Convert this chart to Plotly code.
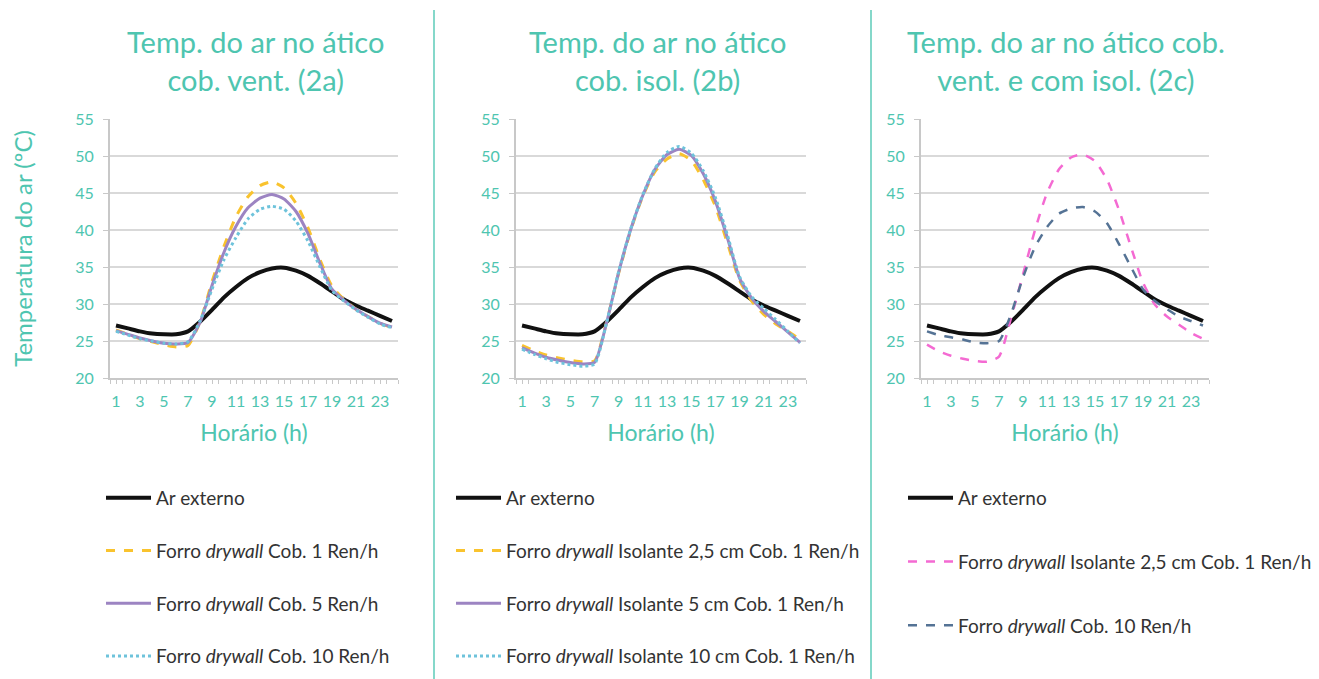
import plotly.graph_objects as go

hours = list(range(1, 25))

# Panel 2a
ar_externo = [27.1, 26.7, 26.3, 26.0, 25.9, 25.9, 26.3, 27.6, 29.2, 30.9, 32.3, 33.5,
              34.3, 34.8, 34.9, 34.5, 33.8, 32.8, 31.7, 30.6, 29.8, 29.1, 28.4, 27.7]
a_cob1 = [26.5, 25.9, 25.3, 24.9, 24.5, 24.2, 24.4, 27.6, 33.0, 37.8, 41.8, 44.5,
          46.0, 46.5, 45.7, 43.6, 40.3, 36.0, 32.4, 30.6, 29.3, 28.3, 27.4, 26.8]
a_cob5 = [26.4, 25.9, 25.4, 25.0, 24.7, 24.6, 24.8, 27.5, 32.5, 37.0, 40.5, 43.0,
          44.3, 44.8, 44.2, 42.5, 39.5, 35.5, 32.0, 30.5, 29.3, 28.3, 27.4, 26.9]
a_cob10 = [26.3, 25.8, 25.3, 25.0, 24.7, 24.6, 24.9, 27.7, 32.0, 36.0, 39.0, 41.5,
           42.8, 43.2, 42.8, 41.2, 38.5, 35.0, 31.8, 30.4, 29.2, 28.2, 27.3, 26.8]

# Panel 2b
b_iso25 = [24.4, 23.7, 23.1, 22.7, 22.4, 22.2, 22.3, 27.6, 34.2, 40.0, 44.6, 47.9,
           49.6, 50.3, 49.4, 46.8, 43.2, 38.2, 33.2, 30.4, 28.6, 27.3, 26.3, 25.2]
b_iso5 = [24.1, 23.4, 22.8, 22.4, 22.1, 21.9, 22.1, 27.5, 34.3, 40.1, 44.7, 48.2,
          50.2, 50.9, 50.1, 47.6, 43.9, 38.9, 33.5, 30.8, 29.0, 27.6, 26.2, 24.8]
b_iso10 = [23.9, 23.2, 22.6, 22.1, 21.8, 21.6, 21.9, 27.5, 34.4, 40.2, 44.8, 48.3,
           50.5, 51.3, 50.4, 48.0, 44.4, 39.3, 33.7, 31.0, 29.4, 27.9, 26.3, 24.7]

# Panel 2c
c_iso25 = [24.5, 23.6, 23.0, 22.6, 22.3, 22.2, 22.9, 28.1, 34.0, 40.0, 45.0, 48.2,
           49.8, 50.2, 49.3, 46.8, 42.7, 37.7, 32.9, 29.9, 28.3, 27.2, 26.1, 25.3]
c_cob10 = [26.3, 25.8, 25.5, 25.2, 24.8, 24.7, 25.0, 28.6, 33.6, 37.7, 40.4, 42.2,
           42.9, 43.1, 42.5, 40.9, 38.1, 35.0, 32.0, 30.4, 29.3, 28.3, 27.7, 27.1]

titles = ["Temp. do ar no ático<br>cob. vent. (2a)",
          "Temp. do ar no ático<br>cob. isol. (2b)",
          "Temp. do ar no ático cob.<br>vent. e com isol. (2c)"]
x_title = "Horário (h)"
y_title = "Temperatura do ar (ºC)"
x_ticks = list(range(1, 24, 2))
y_ticks = [20, 25, 30, 35, 40, 45, 50, 55]

TEAL = "#4EC5B0"
FONT = "Lato, 'Open Sans', sans-serif"
W, H = 1319, 679

BLACK = dict(color="#111111", width=4)
YELLOW = dict(color="#F9C32E", width=3, dash="dash")
PURPLE = dict(color="#9C84C2", width=3)
CYAN = dict(color="#6EC3DB", width=3, dash="dot")
PINK = dict(color="#F46AD2", width=2.5, dash="dash")
NAVY = dict(color="#557395", width=2.5, dash="dash")

panels = [
    ("x", "y", "legend", [
        ("Ar externo", ar_externo, BLACK),
        ("Forro <i>drywall</i> Cob. 1 Ren/h", a_cob1, YELLOW),
        ("Forro <i>drywall</i> Cob. 5 Ren/h", a_cob5, PURPLE),
        ("Forro <i>drywall</i> Cob. 10 Ren/h", a_cob10, CYAN),
    ]),
    ("x2", "y2", "legend2", [
        ("Ar externo", ar_externo, BLACK),
        ("Forro <i>drywall</i> Isolante 2,5 cm Cob. 1 Ren/h", b_iso25, YELLOW),
        ("Forro <i>drywall</i> Isolante 5 cm Cob. 1 Ren/h", b_iso5, PURPLE),
        ("Forro <i>drywall</i> Isolante 10 cm Cob. 1 Ren/h", b_iso10, CYAN),
    ]),
    ("x3", "y3", "legend3", [
        ("Ar externo", ar_externo, BLACK),
        ("Forro <i>drywall</i> Isolante 2,5 cm Cob. 1 Ren/h", c_iso25, PINK),
        ("Forro <i>drywall</i> Cob. 10 Ren/h", c_cob10, NAVY),
    ]),
]

fig = go.Figure()
for xa, ya, lg, series in panels:
    for i, (name, vals, line) in enumerate(series):
        fig.add_trace(go.Scatter(
            x=hours, y=vals, name=name, mode="lines",
            line=dict(line, shape="spline", smoothing=0.6),
            xaxis=xa, yaxis=ya, legend=lg, legendgroup=f"{lg}_{i}", legendrank=i + 1,
            hoverinfo="skip"))

# domains in pixels
xdoms = [(110, 398), (516, 806), (921, 1209)]
ytop, ybot = 119, 378
ydom = [1 - ybot / H, 1 - ytop / H]

axis_common = dict(showline=True, linecolor="#C8C8C8", linewidth=2, mirror=False,
                   tickfont=dict(color=TEAL, size=16, family=FONT), zeroline=False)

layout = dict(
    width=W, height=H, autosize=False, paper_bgcolor="white", plot_bgcolor="white",
    margin=dict(l=0, r=0, t=0, b=0, pad=0, autoexpand=False),
    font=dict(family=FONT, color="#333333"),
    showlegend=True,
)
for k, (x0, x1) in enumerate(xdoms):
    sx = "" if k == 0 else str(k + 1)
    layout[f"xaxis{sx}"] = dict(
        axis_common, domain=[x0 / W, x1 / W], range=[0.5, 24.5], tickvals=x_ticks,
        ticks="outside", ticklen=4, tickcolor="#C8C8C8", ticklabelstandoff=4,
        minor=dict(dtick=1, tick0=0.5, ticks="outside", ticklen=4, tickcolor="#C8C8C8"),
        showgrid=False, anchor=f"y{sx}",
        title=dict(text=x_title, font=dict(color=TEAL, size=23, family=FONT), standoff=16))
    layout[f"yaxis{sx}"] = dict(
        axis_common, domain=ydom, range=[20, 55], tickvals=y_ticks,
        ticks="outside", ticklen=5, tickcolor="#C8C8C8", ticklabelstandoff=6,
        showgrid=True, gridcolor="#D9D9D9", gridwidth=2, anchor=f"x{sx}")
layout["yaxis"]["title"] = dict(text=y_title, font=dict(color=TEAL, size=24, family=FONT), standoff=36)

leg_common = dict(orientation="v", xanchor="left", yanchor="top", bgcolor="rgba(0,0,0,0)",
                  font=dict(size=19, color="#333333", family=FONT), itemwidth=45,
                  traceorder="grouped", itemclick=False, itemdoubleclick=False)
layout["legend"] = dict(leg_common, x=101 / W, y=1 - 479 / H, tracegroupgap=25)
layout["legend2"] = dict(leg_common, x=451 / W, y=1 - 479 / H, tracegroupgap=25)
layout["legend3"] = dict(leg_common, x=903 / W, y=1 - 479 / H, tracegroupgap=36)

annotations = []
centers = [255, 657, 1066]
for c, t in zip(centers, titles):
    annotations.append(dict(text=t, x=c / W, y=1 - 60 / H, xref="paper", yref="paper",
                            xanchor="center", yanchor="middle", showarrow=False,
                            font=dict(size=29, color=TEAL, family=FONT)))
layout["annotations"] = annotations

layout["shapes"] = [
    dict(type="line", xref="paper", yref="paper", x0=434 / W, x1=434 / W, y0=0, y1=1 - 10 / H,
         line=dict(color="#5CCBB8", width=1.5)),
    dict(type="line", xref="paper", yref="paper", x0=871 / W, x1=871 / W, y0=0, y1=1 - 10 / H,
         line=dict(color="#5CCBB8", width=1.5)),
]

fig.update_layout(**layout)
post = ("document.documentElement.style.margin='0';document.body.style.margin='0';"
        "document.body.style.padding='0';document.documentElement.style.overflow='hidden';"
        "document.body.style.overflow='hidden';")
fig.write_html("out.html", post_script=post,
               config={"responsive": False, "displayModeBar": False})
